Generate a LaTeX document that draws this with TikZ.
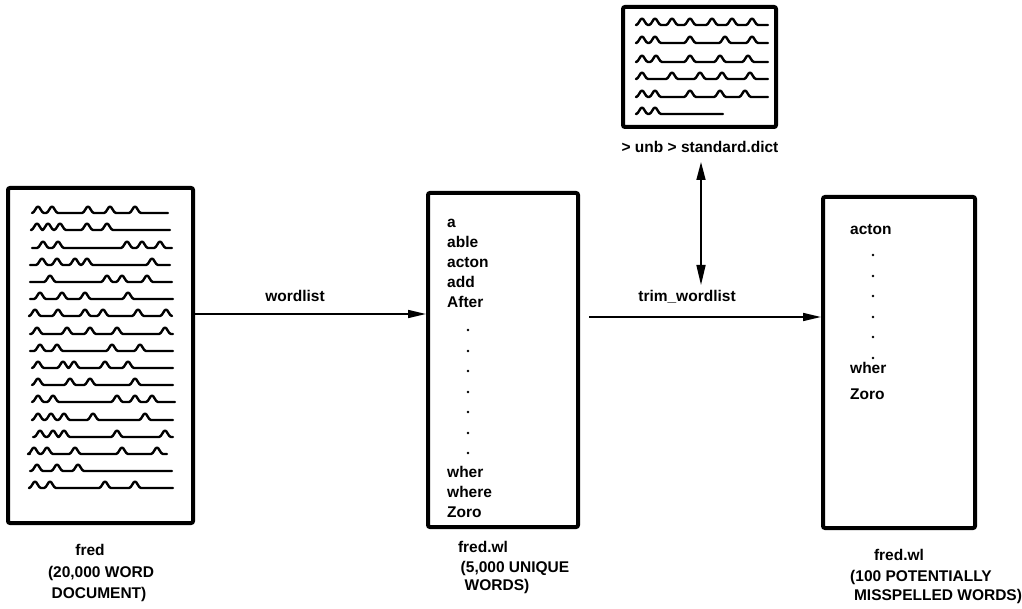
\documentclass[tikz,border=0pt]{standalone}
\usepackage{fontspec}
\setmainfont{Liberation Sans}
\usetikzlibrary{arrows.meta}
\newcommand\wline[4]{%
  \draw[wave] (#2,#1) \foreach \bx in {#4}{ -- (\bx-6,#1) .. controls (\bx-3.5,#1) and (\bx-2,#1-6.5) .. (\bx,#1-6.5) .. controls (\bx+2,#1-6.5) and (\bx+3.5,#1) .. (\bx+6,#1)} -- (#3,#1);}
\begin{document}
\begin{tikzpicture}[x=1pt,y=-1pt,
  box/.style={draw, line width=4pt, rounded corners=2pt, inner sep=0pt},
  wave/.style={line width=2.4pt, line cap=round, line join=round},
  word/.style={anchor=base west, inner sep=0pt, font=\fontsize{15.5}{18}\selectfont\bfseries},
  lbl/.style={anchor=base, inner sep=0pt, font=\fontsize{15.5}{18}\selectfont\bfseries},
  dotn/.style={circle, fill, inner sep=0pt, minimum size=2.8pt},
  arr/.style={line width=1.6pt, -{Triangle[length=18pt,width=8pt]}},
  dbl/.style={line width=1.6pt, {Triangle[length=18pt,width=9pt]}-{Triangle[length=20pt,width=9pt]}}]
\useasboundingbox (0,0) rectangle (1022,609);

% boxes
\node[box, minimum width=185, minimum height=335] (doc) at (100.5,355.5) {};
\node[box, minimum width=150, minimum height=334] (mid) at (503,360) {};
\node[box, minimum width=152, minimum height=331] (res) at (899,362.5) {};
\node[box, minimum width=153, minimum height=120] (dict) at (699.5,67) {};

% document lines
\wline{213}{32}{168}{38,52,88,110,135}
\wline{230}{32}{170}{37,48,60,87,107}
\wline{248}{32}{172}{43,58,127,142,160}
\wline{265}{30}{170}{42,57,75,87,152}
\wline{282}{30}{172}{50,107,122,147}
\wline{299}{30}{173}{40,62,85,128}
\wline{316}{30}{172}{35,58,85,103,138,166}
\wline{334}{30}{173}{37,67,90,117,165}
\wline{351}{30}{173}{40,57,112,140}
\wline{368}{32}{173}{38,63,74,105,128}
\wline{385}{32}{173}{38,70,90,135}
\wline{402}{32}{175}{38,53,117,135,152}
\wline{420}{33}{173}{38,51,64,93,145}
\wline{437}{33}{173}{40,53,64,117,165}
\wline{454}{30}{167}{34,47,75,122,157}
\wline{471}{30}{172}{37,57,78}
\wline{488}{30}{173}{35,50,105,135}

% dictionary lines
\wline{25}{637}{768}{642,655,672,690,712,732,752}
\wline{43}{637}{768}{642,655,690,725,752}
\wline{62}{637}{768}{642,656,690,720,748}
\wline{79}{637}{768}{642,672,700,722,750}
\wline{97}{637}{768}{642,655,690,720,745}
\wline{114}{637}{723}{642,655}

\node[lbl] (dictlbl) at (700,153) {> unb > standard.dict};

% middle list
\node[word] (m1) at (447,228) {a};
\node[word] (m2) at (447,248) {able};
\node[word] (m3) at (447,268) {acton};
\node[word] (m4) at (447,288) {add};
\node[word] (m5) at (447,308) {After};
\foreach \yy [count=\i] in {330,351,371,392,412,433,453}
  \node[dotn] (md\i) at (468,\yy) {};
\node[word] (m6) at (447,477) {wher};
\node[word] (m7) at (447,497) {where};
\node[word] (m8) at (447,517) {Zoro};

% result list
\node[word] (r1) at (850,235) {acton};
\foreach \yy [count=\i] in {255,276,296,317,337,358}
  \node[dotn] (rd\i) at (873,\yy) {};
\node[word] (r2) at (850,373) {wher};
\node[word] (r3) at (850,399) {Zoro};

% connectors
\coordinate (yw) at (0,314);
\coordinate (yt) at (0,317);
\draw[arr] (doc.east |- yw) -- (mid.west |- yw);
\node[lbl] (wl) at (295,302) {wordlist};
\draw[arr, shorten <=9pt] (mid.east |- yt) -- (res.west |- yt);
\node[lbl] (tw) at (687,302) {trim\_wordlist};
\coordinate (dtop) at (701,162);
\coordinate (dbot) at (701,285);
\draw[dbl] (dtop) -- (dbot);

% captions
\node[lbl] (c1a) at (90,555) {fred};
\node[lbl] (c1b) at (101,577) {(20,000 WORD};
\node[lbl] (c1c) at (99,598) {DOCUMENT)};
\node[lbl] (c2a) at (483,552) {fred.wl};
\node[lbl] (c2b) at (515,572) {(5,000 UNIQUE};
\node[lbl] (c2c) at (497,590) {WORDS)};
\node[lbl] (c3a) at (899,560) {fred.wl};
\node[lbl] (c3b) at (921,581) {(100 POTENTIALLY};
\node[lbl] (c3c) at (938,600) {MISSPELLED WORDS)};
\end{tikzpicture}
\end{document}
